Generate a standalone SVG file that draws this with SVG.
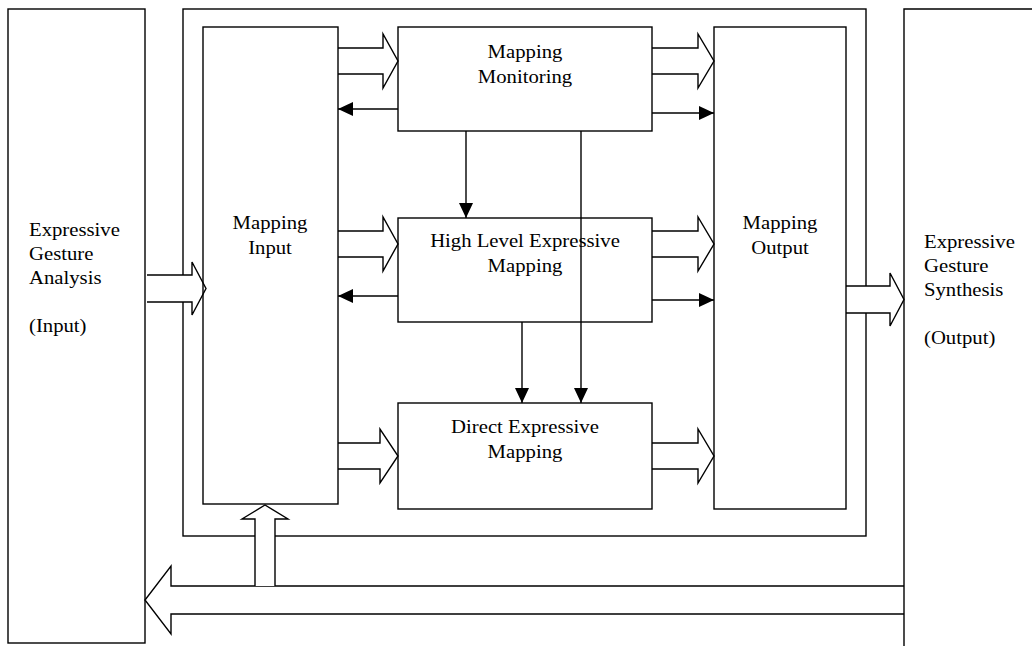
<svg xmlns="http://www.w3.org/2000/svg" width="1032" height="646" viewBox="0 0 1032 646">
<style>
.box{fill:#fff;stroke:#000;stroke-width:1.4}
.open{fill:none;stroke:#000;stroke-width:1.4}
.blk{fill:#fff;stroke:#000;stroke-width:1.4;stroke-linejoin:miter}
.thin{fill:none;stroke:#000;stroke-width:1.4}
.t{font-family:"Liberation Serif","Times New Roman",serif;font-size:18.5px;fill:#000}
.c{text-anchor:middle}
</style>
<defs>
<marker id="ah" markerUnits="userSpaceOnUse" viewBox="0 0 15 14" refX="15" refY="7" markerWidth="15" markerHeight="14" orient="auto">
<path d="M0,0 L15,7 L0,14 Z" fill="#000"/>
</marker>
</defs>
<rect width="1032" height="646" fill="#fff"/>
<g id="container">
<rect class="box" x="183" y="9" width="683" height="527"/>
</g>
<g id="connectors">
<path class="blk" d="M147,275 H192 V262 L206,288.5 L192,315 V302 H147"/>
<path class="blk" d="M338,48 H383 V34 L398,61 L383,88 V74 H338"/>
<path class="blk" d="M338,231 H383 V217 L398,244 L383,271 V257 H338"/>
<path class="blk" d="M338,443 H380 V429 L398,456 L380,483 V469 H338"/>
<path class="blk" d="M652,48 H698 V34 L714,61 L698,88 V74 H652"/>
<path class="blk" d="M652,231 H698 V217 L714,244 L698,271 V257 H652"/>
<path class="blk" d="M652,443 H698 V429 L714,456 L698,483 V469 H652"/>
<path class="blk" d="M846,286 H890 V273 L904,299.5 L890,326 V313 H846"/>
<path class="blk" d="M904,586 H171 V566 L145,600 L171,634 V614 H904"/>
<path class="blk" d="M255,586 V519 H242 L265,505 L288,519 H275 V586"/>
<path class="thin" d="M398,109 H338" marker-end="url(#ah)"/>
<path class="thin" d="M398,296 H338" marker-end="url(#ah)"/>
<path class="thin" d="M652,113 H714" marker-end="url(#ah)"/>
<path class="thin" d="M652,300 H714" marker-end="url(#ah)"/>
<path class="thin" d="M466,131 V218" marker-end="url(#ah)"/>
<path class="thin" d="M581,131 V403" marker-end="url(#ah)"/>
<path class="thin" d="M522,322 V403" marker-end="url(#ah)"/>
</g>
<g id="analysis">
<rect class="open" x="8" y="9" width="137" height="634"/>
<text class="t" transform="matrix(1.12 0 0 1 29 0)"><tspan x="0" y="236">Expressive</tspan><tspan x="0" y="260">Gesture</tspan><tspan x="0" y="284">Analysis</tspan><tspan x="0" y="332">(Input)</tspan></text>
</g>
<g id="synthesis">
<path class="open" d="M1040,9 H904 V650"/>
<text class="t" transform="matrix(1.12 0 0 1 924 0)"><tspan x="0" y="248">Expressive</tspan><tspan x="0" y="272">Gesture</tspan><tspan x="0" y="296">Synthesis</tspan><tspan x="0" y="344">(Output)</tspan></text>
</g>
<g id="mapping-input">
<rect class="open" x="203" y="27" width="135" height="477"/>
<text class="t c" transform="matrix(1.12 0 0 1 270 0)"><tspan x="0" y="229">Mapping</tspan><tspan x="0" y="254">Input</tspan></text>
</g>
<g id="mapping-monitoring">
<rect class="open" x="398" y="27" width="254" height="104"/>
<text class="t c" transform="matrix(1.12 0 0 1 525 0)"><tspan x="0" y="58">Mapping</tspan><tspan x="0" y="83">Monitoring</tspan></text>
</g>
<g id="high-level">
<rect class="open" x="398" y="218" width="254" height="104"/>
<text class="t c" transform="matrix(1.12 0 0 1 525 0)"><tspan x="0" y="247">High Level Expressive</tspan><tspan x="0" y="272">Mapping</tspan></text>
</g>
<g id="direct">
<rect class="open" x="398" y="403" width="254" height="106"/>
<text class="t c" transform="matrix(1.12 0 0 1 525 0)"><tspan x="0" y="433">Direct Expressive</tspan><tspan x="0" y="458">Mapping</tspan></text>
</g>
<g id="mapping-output">
<rect class="open" x="714" y="27" width="132" height="482"/>
<text class="t c" transform="matrix(1.12 0 0 1 780 0)"><tspan x="0" y="229">Mapping</tspan><tspan x="0" y="254">Output</tspan></text>
</g>
</svg>
